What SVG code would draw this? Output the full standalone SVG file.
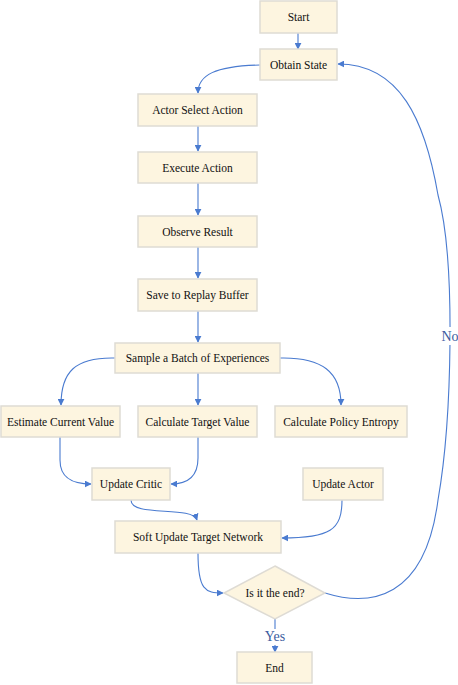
<svg xmlns="http://www.w3.org/2000/svg" width="458" height="685" viewBox="0 0 458 685">
<defs>
<marker id="ah" viewBox="0 0 10 10" refX="9" refY="5" markerWidth="7" markerHeight="7" markerUnits="userSpaceOnUse" orient="auto">
<path d="M0,0 L10,5 L0,10 z" fill="#4a7bd0"/>
</marker>
<style>
.n rect, .n polygon { fill:#fdf5e0; stroke:#dedbd4; stroke-width:1.5; }
.n text { font-family:'Liberation Serif', 'Times New Roman', Times, serif; font-size:11.5px; fill:#111; text-anchor:middle; dominant-baseline:central; }
.c path { fill:none; stroke:#4a7bd0; stroke-width:1.1; }
.c path.a { marker-end:url(#ah); }
.lbl { font-family:'Liberation Serif', 'Times New Roman', Times, serif; font-size:14px; fill:#3b5c9e; text-anchor:middle; dominant-baseline:central; }
</style>
</defs>
<rect width="458" height="685" fill="#ffffff"/>
<g id="connectors" class="c">
<path class="a" d="M298,33 L298,49"/>
<path class="a" d="M260,65 C215,66 198,75 198,93"/>
<path class="a" d="M198,126 L198,151"/>
<path class="a" d="M198,183 L198,215"/>
<path class="a" d="M198,247 L198,278"/>
<path class="a" d="M198,311 L198,342"/>
<path class="a" d="M115,358 C75,357 61,372 61,405"/>
<path class="a" d="M198,373 L198,405"/>
<path class="a" d="M280,358 C322,357 341,372 341,405"/>
<path class="a" d="M60,437 L60,460 C60,478 72,484 91,484"/>
<path class="a" d="M198,437 L198,458 C198,477 188,484 171,484"/>
<path class="a" d="M131,500 C131,518 192,505 197,520"/>
<path class="a" d="M342,500 C342,530 330,538 282,538"/>
<path class="a" d="M198,553 C198,590 205,593 223,593"/>
<path d="M275,619 L275,629"/>
<path class="a" d="M275,645 L275,652"/>
<path class="a" d="M325,593 C370,607 425,600 438,500 C452,420 456,260 438,195 C425,120 400,64 338,64"/>
<rect x="441" y="327" width="17" height="18" fill="#ffffff"/>
<text class="lbl" x="450" y="336">No</text>
<text class="lbl" x="275" y="636">Yes</text>
</g>
<g id="start" class="n"><rect x="260" y="1" width="77" height="32"/><text x="298.5" y="17">Start</text></g>
<g id="obtain" class="n"><rect x="260" y="49" width="77" height="31"/><text x="298.5" y="64.5">Obtain State</text></g>
<g id="actor-select" class="n"><rect x="138" y="94" width="119" height="32"/><text x="197.5" y="110">Actor Select Action</text></g>
<g id="execute" class="n"><rect x="138" y="152" width="119" height="31"/><text x="197.5" y="167.5">Execute Action</text></g>
<g id="observe" class="n"><rect x="138" y="216" width="119" height="31"/><text x="197.5" y="231.5">Observe Result</text></g>
<g id="save" class="n"><rect x="138" y="279" width="119" height="32"/><text x="197.5" y="295">Save to Replay Buffer</text></g>
<g id="sample" class="n"><rect x="115" y="343" width="165" height="30"/><text x="197.5" y="358">Sample a Batch of Experiences</text></g>
<g id="estimate" class="n"><rect x="1" y="406" width="119" height="31"/><text x="60.5" y="421.5">Estimate Current Value</text></g>
<g id="target" class="n"><rect x="138" y="406" width="119" height="31"/><text x="197.5" y="421.5">Calculate Target Value</text></g>
<g id="entropy" class="n"><rect x="275" y="406" width="132" height="31"/><text x="341" y="421.5">Calculate Policy Entropy</text></g>
<g id="critic" class="n"><rect x="92" y="468" width="78" height="32"/><text x="131" y="484">Update Critic</text></g>
<g id="update-actor" class="n"><rect x="303" y="468" width="80" height="32"/><text x="343" y="484">Update Actor</text></g>
<g id="soft" class="n"><rect x="115" y="521" width="166" height="32"/><text x="198" y="537">Soft Update Target Network</text></g>
<g id="decision" class="n"><polygon points="275,566 325,593 275,619 224,593"/><text x="275" y="593">Is it the end?</text></g>
<g id="end" class="n"><rect x="237" y="652" width="75" height="31"/><text x="274.5" y="667.5">End</text></g>
</svg>
